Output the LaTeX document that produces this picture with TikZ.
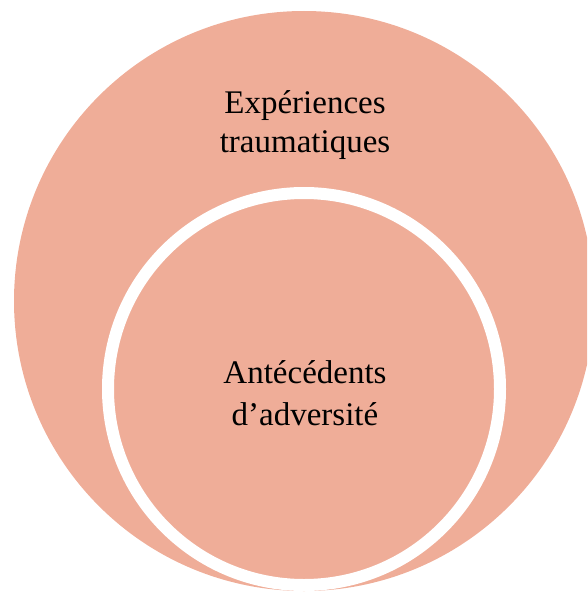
\documentclass[tikz,border=0pt]{standalone}
\usepackage{fontspec}
\setmainfont{Liberation Serif}
\definecolor{salmon}{RGB}{239,173,152}
\begin{document}
\begin{tikzpicture}[x=1pt,y=-1pt,
  disc/.style={fill=salmon,draw=none},
  ring/.style={draw=white,line width=12pt},
  lbl/.style={align=center,inner sep=0pt,anchor=base,text=black}]
\useasboundingbox (0,0) rectangle (587,594);
\clip (0,0) rectangle (587,594);
\fill[disc] (304,301) circle[radius=290];
\fill[disc] (304,389) circle[radius=196];
\draw[ring] (304,389) circle[radius=196];
\node[lbl,font=\fontsize{33}{39}\selectfont] (outer) at (305,152) {Expériences\\traumatiques};
\node[lbl,font=\fontsize{33}{42}\selectfont] (inner) at (305,425) {Antécédents\\d’adversité};
\end{tikzpicture}
\end{document}
